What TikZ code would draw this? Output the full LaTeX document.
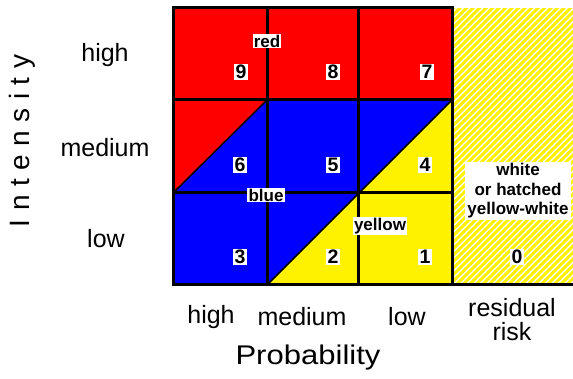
\documentclass[tikz,border=0pt]{standalone}
\usepackage{fontspec}
\setmainfont{Liberation Sans}
\begin{document}
\begin{tikzpicture}[x=1pt,y=-1pt,
  lbl/.style={font=\fontsize{17}{20}\selectfont\bfseries, fill=white, inner sep=1.2pt},
  num/.style={font=\fontsize{19.5}{21}\selectfont\bfseries, fill=white, inner sep=1.2pt},
  axlbl/.style={font=\fontsize{25}{28}\selectfont, inner sep=0pt},
  gridline/.style={line width=3pt, black},
  diag/.style={line width=1.5pt, black}]
\useasboundingbox (0,0) rectangle (573,379);
% hatched residual area
\begin{scope}
  \clip (452,9) rectangle (573,285);
  \fill[white] (452,9) rectangle (573,285);
  \foreach \i in {-300,-293.5,...,130} {
    \draw[yellow, line width=2.9pt] (452+\i,290) -- (452+\i+290,0);
  }
\end{scope}
% colour fields
\fill[blue] (173,8) rectangle (452,285);
\fill[red] (173,8) -- (452,8) -- (452,100) -- (267,100) -- (173,193) -- cycle;
\fill[yellow] (452,100) -- (452,285) -- (267,285) -- cycle;
% diagonals
\draw[diag] (173,193) -- (267,100);
\draw[diag] (267,285) -- (452,100);
% grid
\draw[gridline] (267,8) -- (267,285);
\draw[gridline] (358,8) -- (358,285);
\draw[gridline] (173,100) -- (452,100);
\draw[gridline] (173,193) -- (452,193);
\draw[gridline] (452,285) -- (173,285) -- (173,8) -- (452,8) -- (452,285);
\draw[gridline] (452,285) -- (573,285);
% numbers
\node[num] (n9) at (241,72) {9};
\node[num] (n8) at (333,72) {8};
\node[num] (n7) at (427,72) {7};
\node[num] (n6) at (240,165) {6};
\node[num] (n5) at (333,165) {5};
\node[num] (n4) at (425,165) {4};
\node[num] (n3) at (240,257) {3};
\node[num] (n2) at (333,257) {2};
\node[num] (n1) at (425,257) {1};
\node[num] (n0) at (517,257) {0};
% colour labels
\node[lbl] (lred) at (267,41) {red};
\node[lbl] (lblue) at (266,195) {blue};
\node[lbl] (lyellow) at (380,226) {yellow};
\node[lbl, align=center, font=\fontsize{17}{19.5}\selectfont\bfseries, inner sep=2pt] (lwhite) at (518,191) {white\\or hatched\\yellow-white};
% axis labels
\node[axlbl] (ihigh) at (105,55) {high};
\node[axlbl] (imed) at (105,148) {medium};
\node[axlbl] (ilow) at (106,239) {low};
\node[axlbl] (phigh) at (211,317) {high};
\node[axlbl] (pmed) at (302,317) {medium};
\node[axlbl] (plow) at (407,317) {low};
\node[axlbl, align=center, font=\fontsize{25}{24}\selectfont] (pres) at (512,320) {residual\\risk};
\node[inner sep=0pt, font=\fontsize{27}{30}\selectfont] (prob) at (308,358) {\scalebox{1.15}[1]{Probability}};
\node[inner sep=0pt, rotate=90, font=\fontsize{28}{30}\selectfont] (inten) at (22,141) {I\kern8.5pt n\kern8.5pt t\kern8.5pt e\kern8.5pt n\kern8.5pt s\kern8.5pt i\kern8.5pt t\kern8.5pt y};
\end{tikzpicture}
\end{document}
